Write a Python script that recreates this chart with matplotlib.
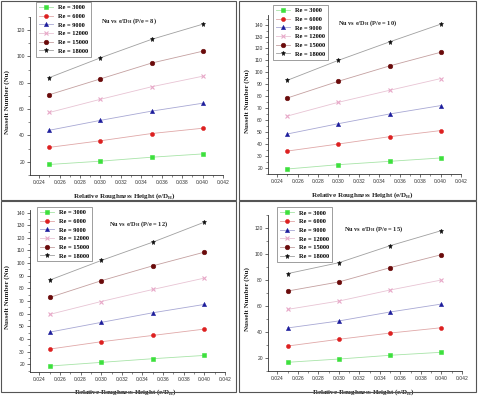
import numpy as np
import matplotlib
matplotlib.use("Agg")
import matplotlib.pyplot as plt
from matplotlib.patches import Rectangle
from matplotlib.ticker import MultipleLocator

plt.rcParams['mathtext.fontset'] = 'custom'
plt.rcParams['mathtext.rm'] = 'Liberation Serif:bold'
plt.rcParams['mathtext.bf'] = 'Liberation Serif:bold'

# relative roughness height e/D_H
x = [0.025, 0.030, 0.035, 0.040]
re_labels = ["Re = 3000", "Re = 6000", "Re = 9000", "Re = 12000", "Re = 15000", "Re = 18000"]

# Nusselt number, one list per Re, for each P/e
nu_pe8 = [[18.0, 20.5, 23.5, 26.0],
          [31.0, 36.0, 41.5, 45.5],
          [44.0, 51.5, 58.5, 64.5],
          [57.5, 67.5, 77.0, 85.0],
          [71.0, 83.0, 95.0, 104.0],
          [84.0, 99.0, 113.0, 124.5]]
nu_pe10 = [[19.2, 22.8, 25.6, 28.4],
           [34.2, 40.1, 46.2, 51.3],
           [48.5, 57.1, 65.2, 72.2],
           [63.5, 75.0, 85.0, 94.8],
           [78.6, 92.6, 105.4, 116.8],
           [93.4, 110.1, 125.5, 140.3]]
nu_pe12 = [[18.7, 21.6, 24.5, 27.1],
           [32.1, 37.9, 42.9, 47.9],
           [45.5, 53.2, 60.8, 67.4],
           [59.5, 69.7, 79.2, 88.2],
           [72.9, 86.1, 97.9, 108.7],
           [86.6, 102.1, 116.6, 132.4]]
nu_pe15 = [[16.7, 19.2, 22.1, 24.4],
           [29.2, 34.4, 39.2, 43.3],
           [43.1, 48.5, 55.4, 61.5],
           [57.4, 63.8, 72.3, 80.0],
           [71.5, 78.5, 89.5, 99.5],
           [84.9, 93.3, 106.4, 118.0]]
pe_titles = ["8", "10", "12", "15"]

# marker styles
mk = ['s', 'o', '^', 'x', 'o', '*']
mcol = ['#3de03d', '#dd2020', '#1c1c9c', '#e8a8c8', '#6a0a0a', '#111111']
lcol = ['#a8e4a8', '#e0a8a8', '#a8a8d4', '#e8c4d4', '#c4a0a0', '#a0a0a0']
msz = [2.5, 2.9, 3.0, 2.8, 3.3, 3.6]

W, H = 478.0, 404.0
# panel layout in pixels: left, right, top, bottom of axes
boxes = [(30, 223, 17, 175), (268, 461, 15, 174), (30, 225, 210, 372), (268, 462, 215, 371)]
ylims = [(10, 130), (15, 148), (14, 142), (10, 130)]
ymaj = [20, 10, 10, 20]
leg_pos = [(0.031, 1.095), (0.026, 1.063), (0.036, 1.019), (0.046, 1.05)]
tit_pos = [(0.368, 0.975), (0.363, 0.95), (0.405, 0.914), (0.392, 0.91)]
xlab_y = [-0.10, -0.10, -0.095, -0.105]
ylab_x = [-0.105, -0.093, -0.103, -0.093]
frames = [(0.5, 236, 1, 199.5), (239, 476, 1, 199.5), (0.5, 236, 201, 392), (239, 476, 201, 392)]

serif = 'Liberation Serif'
sans = 'Liberation Sans'

fig = plt.figure(figsize=(W / 100, H / 100), dpi=100)

# frames around each panel
for (l, r, t, b) in frames:
    fig.add_artist(Rectangle((l / W, 1 - b / H), (r - l) / W, (b - t) / H,
                             transform=fig.transFigure, fill=False,
                             edgecolor='#555555', linewidth=0.8))

all_data = [nu_pe8, nu_pe10, nu_pe12, nu_pe15]
for k, data in enumerate(all_data):
    l, r, t, b = boxes[k]
    ax = fig.add_axes([l / W, 1 - b / H, (r - l) / W, (b - t) / H])
    for i, ys in enumerate(data):
        ax.plot(x, ys, '-', color=lcol[i], lw=0.6, marker=mk[i], ms=msz[i],
                mfc=mcol[i], mec=mcol[i], mew=0.4 if mk[i] != 'x' else 0.8,
                label=re_labels[i])
    ax.set_xlim(0.0231, 0.042)
    ax.set_ylim(*ylims[k])
    ax.xaxis.set_major_locator(MultipleLocator(0.002))
    ax.xaxis.set_minor_locator(MultipleLocator(0.001))
    ax.yaxis.set_major_locator(MultipleLocator(ymaj[k]))
    ax.yaxis.set_minor_locator(MultipleLocator(ymaj[k] / 2))
    ax.xaxis.set_major_formatter(plt.FuncFormatter(lambda v, p: "%.3f" % v))
    for s in ['top', 'right']:
        ax.spines[s].set_visible(False)
    for s in ['left', 'bottom']:
        ax.spines[s].set_linewidth(0.6)
        ax.spines[s].set_color('#333333')
    ax.tick_params(which='major', direction='out', length=2.2, width=0.5, color='#333333',
                   labelsize=3.6, pad=1.5, labelcolor='#333333')
    ax.tick_params(which='minor', direction='out', length=1.2, width=0.4, color='#333333')
    for lab in ax.get_xticklabels() + ax.get_yticklabels():
        lab.set_family(sans)

    ax.set_xlabel("Relative Roughness Height (e/D$_{\\mathregular{H}}$)", family=serif,
                  fontweight='bold', fontsize=5, color='#222222')
    ax.set_ylabel("Nusselt Number (Nu)", family=serif, fontweight='bold', fontsize=5,
                  color='#222222')
    ax.xaxis.set_label_coords(0.49, xlab_y[k])
    ax.yaxis.set_label_coords(ylab_x[k], 0.46)

    ax.text(tit_pos[k][0], tit_pos[k][1],
            "Nu vs e/D$_{\\mathregular{H}}$ (P/e = %s)" % pe_titles[k],
            transform=ax.transAxes, family=serif, fontweight='bold', fontsize=4.6,
            color='#222222', ha='left', va='center')

    leg = ax.legend(loc='upper left', bbox_to_anchor=leg_pos[k], fancybox=False,
                    prop={'family': serif, 'weight': 'bold', 'size': 4.6},
                    handlelength=2.2, handletextpad=0.8, labelspacing=0.5,
                    borderpad=0.45, borderaxespad=0, framealpha=1)
    leg.get_frame().set_linewidth(0.5)
    leg.get_frame().set_edgecolor('#777777')

fig.savefig("out.png", dpi=100)
